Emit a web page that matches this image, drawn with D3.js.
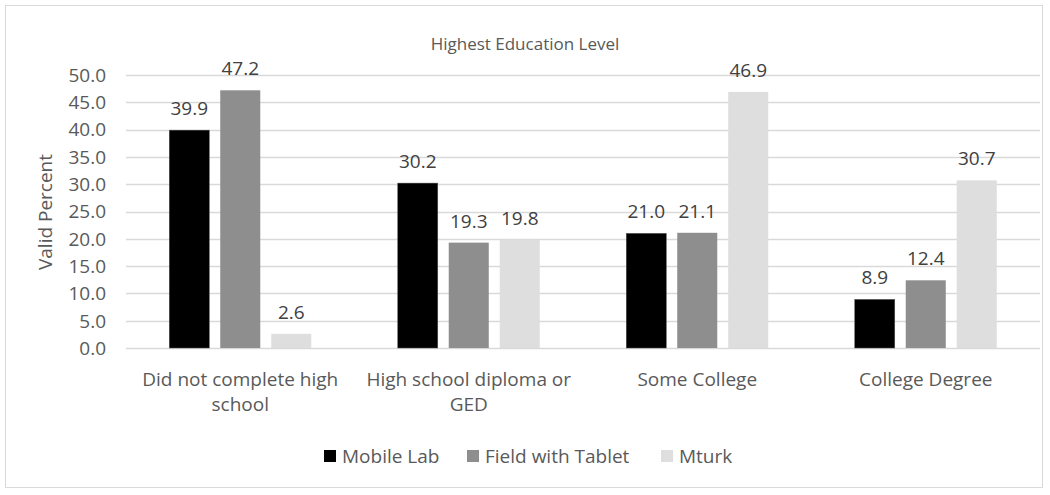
<!DOCTYPE html>
<html>
<head>
<meta charset="utf-8">
<script src="https://cdn.jsdelivr.net/npm/d3@7"></script>
<style>
  body { margin: 0; background: #fff; }
  text { font-family: "Open Sans", "Noto Sans", sans-serif; fill: #595959; }
</style>
</head>
<body>
<div id="chart"></div>
<script>
// chart data
const categories = [
  ['Did not complete high', 'school'],
  ['High school diploma or', 'GED'],
  ['Some College'],
  ['College Degree'],
];
const seriesNames = ['Mobile Lab', 'Field with Tablet', 'Mturk'];
const mobileLab = [39.9, 30.2, 21.0, 8.9];
const fieldTablet = [47.2, 19.3, 21.1, 12.4];
const mturk = [2.6, 19.8, 46.9, 30.7];
const yTicks = [0, 5, 10, 15, 20, 25, 30, 35, 40, 45, 50];

const colors = ['#000000', '#8e8e8e', '#dedede'];
const series = [mobileLab, fieldTablet, mturk];

const width = 1050;
const height = 495;
const plot = { left: 126, right: 1040, top: 75, bottom: 348 };
const fontSize = '19px';

const svg = d3.select('#chart')
  .append('svg')
  .attr('width', width)
  .attr('height', height);

// outer frame
svg.append('rect')
  .attr('x', 5.5).attr('y', 5.5)
  .attr('width', 1037).attr('height', 482)
  .attr('fill', '#fff')
  .attr('stroke', '#d9d9d9');

const x0 = d3.scaleBand()
  .domain(d3.range(categories.length))
  .range([plot.left, plot.right]);

const x1 = d3.scaleBand()
  .domain(d3.range(series.length))
  .range([0, 142])
  .paddingInner(0.215);

const y = d3.scaleLinear()
  .domain([0, 50])
  .range([plot.bottom, plot.top]);

// gridlines
svg.append('g')
  .selectAll('line')
  .data(yTicks)
  .enter()
  .append('line')
  .attr('x1', plot.left)
  .attr('x2', plot.right)
  .attr('y1', (d) => Math.round(y(d)) + 0.5)
  .attr('y2', (d) => Math.round(y(d)) + 0.5)
  .attr('stroke', '#d9d9d9')
  .attr('stroke-width', 1.5);

// y tick labels
svg.append('g')
  .selectAll('text')
  .data(yTicks)
  .enter()
  .append('text')
  .attr('x', 106)
  .attr('y', (d) => y(d))
  .attr('dy', '0.36em')
  .attr('text-anchor', 'end')
  .style('font-size', fontSize)
  .text((d) => d.toFixed(1));

// bars
const groups = svg.append('g')
  .selectAll('g')
  .data(categories)
  .enter()
  .append('g')
  .attr('transform', (d, i) => `translate(${x0(i) + (x0.bandwidth() - 142) / 2},0)`);

groups.selectAll('rect')
  .data((d, i) => series.map((s, j) => ({ j, v: s[i] })))
  .enter()
  .append('rect')
  .attr('x', (d) => x1(d.j))
  .attr('y', (d) => y(d.v))
  .attr('width', x1.bandwidth())
  .attr('height', (d) => y(0) - y(d.v))
  .attr('fill', (d) => colors[d.j])
  .attr('stroke', (d) => (d.j === 0 ? '#555' : 'none'))
  .attr('stroke-width', 0.5);

// data labels
groups.selectAll('text.label')
  .data((d, i) => series.map((s, j) => ({ j, v: s[i] })))
  .enter()
  .append('text')
  .attr('class', 'label')
  .attr('x', (d) => x1(d.j) + x1.bandwidth() / 2)
  .attr('y', (d) => y(d.v) - 15)
  .attr('text-anchor', 'middle')
  .style('font-size', fontSize)
  .style('fill', '#404040')
  .text((d) => d.v.toFixed(1));

// category labels
svg.append('g')
  .selectAll('text')
  .data(categories)
  .enter()
  .append('text')
  .attr('x', (d, i) => x0(i) + x0.bandwidth() / 2)
  .attr('y', 386)
  .attr('text-anchor', 'middle')
  .style('font-size', fontSize)
  .each(function (d) {
    d3.select(this).selectAll('tspan')
      .data(d)
      .enter()
      .append('tspan')
      .attr('x', d3.select(this).attr('x'))
      .attr('dy', (t, k) => (k === 0 ? 0 : 25))
      .text((t) => t);
  });

// title
svg.append('text')
  .attr('x', 525)
  .attr('y', 50)
  .attr('text-anchor', 'middle')
  .style('font-size', '17px')
  .text('Highest Education Level');

// y axis title
svg.append('text')
  .attr('transform', 'translate(52,212) rotate(-90)')
  .attr('text-anchor', 'middle')
  .style('font-size', fontSize)
  .text('Valid Percent');

// legend
const legendX = [324, 467, 661];
const legend = svg.append('g')
  .selectAll('g')
  .data(seriesNames)
  .enter()
  .append('g')
  .attr('transform', (d, i) => `translate(${legendX[i]},450)`);

legend.append('rect')
  .attr('width', 12)
  .attr('height', 12)
  .attr('fill', (d, i) => colors[i]);

legend.append('text')
  .attr('x', 18)
  .attr('y', 6)
  .attr('dy', '0.36em')
  .style('font-size', fontSize)
  .text((d) => d);
</script>
</body>
</html>
